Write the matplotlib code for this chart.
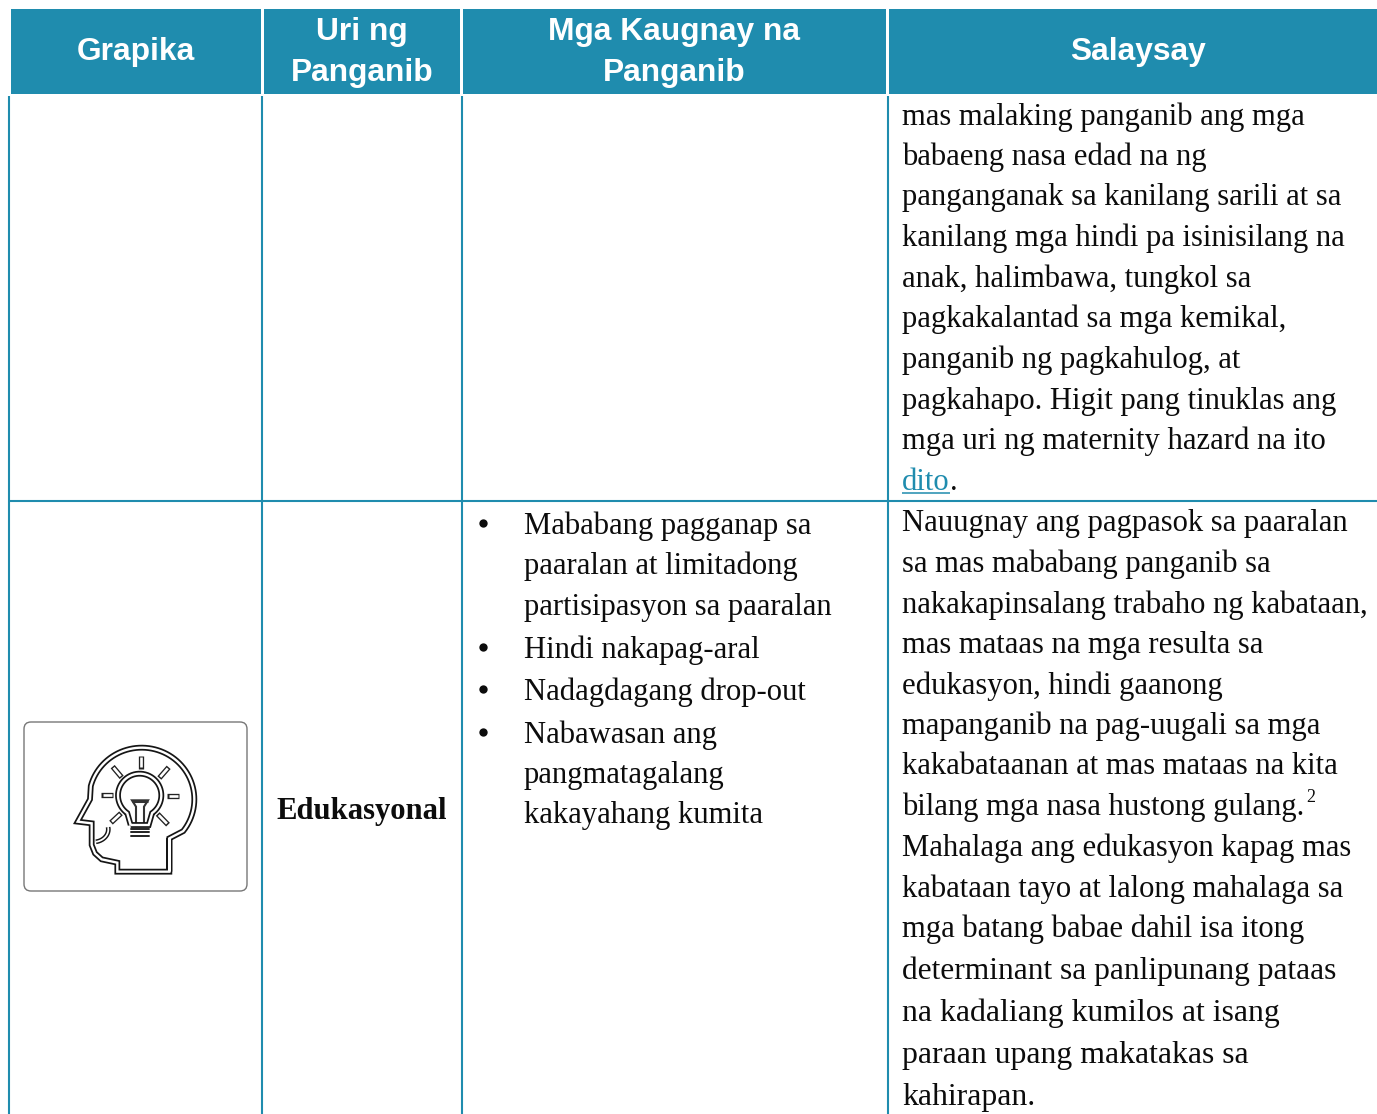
import matplotlib
matplotlib.use("Agg")
import matplotlib.pyplot as plt
from matplotlib.patches import FancyBboxPatch
import numpy as np

# Table content
headers = [["Grapika"], ["Uri ng", "Panganib"], ["Mga Kaugnay na", "Panganib"], ["Salaysay"]]
top_lines = ["mas malaking panganib ang mga", "babaeng nasa edad na ng",
             "panganganak sa kanilang sarili at sa", "kanilang mga hindi pa isinisilang na",
             "anak, halimbawa, tungkol sa", "pagkakalantad sa mga kemikal,",
             "panganib ng pagkahulog, at", "pagkahapo. Higit pang tinuklas ang",
             "mga uri ng maternity hazard na ito"]
top_y = [114, 154, 195, 235, 276, 316, 357, 398, 438]
link_word = "dito"
risk_type = "Edukasyonal"
bullet_lines = [("Mababang pagganap sa", True, 523), ("paaralan at limitadong", False, 563),
                ("partisipasyon sa paaralan", False, 604), ("Hindi nakapag-aral", True, 647),
                ("Nadagdagang drop-out", True, 689), ("Nabawasan ang", True, 732),
                ("pangmatagalang", False, 773), ("kakayahang kumita", False, 813)]
story_lines = ["Nauugnay ang pagpasok sa paaralan", "sa mas mababang panganib sa",
               "nakakapinsalang trabaho ng kabataan,", "mas mataas na mga resulta sa",
               "edukasyon, hindi gaanong", "mapanganib na pag-uugali sa mga",
               "kakabataanan at mas mataas na kita", "bilang mga nasa hustong gulang.",
               "Mahalaga ang edukasyon kapag mas", "kabataan tayo at lalong mahalaga sa",
               "mga batang babae dahil isa itong", "determinant sa panlipunang pataas",
               "na kadaliang kumilos at isang", "paraan upang makatakas sa", "kahirapan."]
story_y = [521, 561, 602, 642, 683, 723, 764, 804, 845, 886, 926, 968, 1010, 1052, 1094]
story_size = [22.1] * 11 + [22.65, 22.9, 22.9, 22.75]

W, H = 1377, 1114
TEAL = "#1f8cae"
INK = "#0c0c0c"
col_edges = [9, 262, 462, 888, 1377]
header_x = [(11, 261), (264, 460), (463, 886), (889, 1377)]
SERIF = "Liberation Serif"
SANS = "Liberation Sans"
FS = 22.1
DY = 3

fig = plt.figure(figsize=(W / 100, H / 100), dpi=100)
ax = fig.add_axes([0, 0, 1, 1])
ax.set_xlim(0, W)
ax.set_ylim(H, 0)
ax.axis("off")

# header cells
for (x0, x1), lines in zip(header_x, headers):
    ax.fill([x0, x1, x1, x0], [9, 9, 94, 94], color=TEAL, lw=0)
    cx = (x0 + x1) / 2 + (5 if x0 == 889 else 0)
    ys = [49] if len(lines) == 1 else [29, 70]
    for s, y in zip(lines, ys):
        ax.text(cx, y + DY, s, ha="center", va="center", color="white", family=SANS,
                weight="bold", fontsize=22.9)

# grid lines
for x in col_edges[:-1]:
    ax.plot([x, x], [96, H], color=TEAL, lw=1.5, solid_capstyle="butt")
ax.plot([9, W], [501, 501], color=TEAL, lw=1.5, solid_capstyle="butt")

# last column, top row
for s, y in zip(top_lines, top_y):
    ax.text(902, y + DY, s, va="center", family=SERIF, fontsize=FS, color=INK)
t = ax.text(902, 479 + DY, link_word, va="center", family=SERIF, fontsize=FS, color=TEAL)
fig.canvas.draw()
link_end = t.get_window_extent().x1
ax.text(link_end, 479 + DY, ".", va="center", family=SERIF, fontsize=FS, color=INK)
ax.plot([902, link_end], [492.7, 492.7], color=TEAL, lw=1.1, solid_capstyle="butt")

# second row
ax.text(362, 808 + DY, risk_type, ha="center", va="center", family=SERIF, weight="bold",
        fontsize=FS, color=INK)
for s, bullet, y in bullet_lines:
    if bullet:
        ax.plot([483], [y], "o", color=INK, ms=6, mew=0)
    ax.text(524, y + DY, s, va="center", family=SERIF, fontsize=FS, color=INK)
for s, y, size in zip(story_lines, story_y, story_size):
    ax.text(902, y + DY, s, va="center", family=SERIF, fontsize=size, color=INK)
ax.text(1306, 798, "2", va="center", family=SERIF, fontsize=13, color=INK)

# icon box
ax.add_patch(FancyBboxPatch((24, 722), 223, 169, boxstyle="round,pad=0,rounding_size=7",
                            fc="white", ec="#777777", lw=1))


def zx(v):
    return 10 + np.asarray(v, dtype=float) / 3


def zy(v):
    return 710 + np.asarray(v, dtype=float) / 3


def dbl(xs, ys, outer=4.2, inner=1.7):
    ax.plot(zx(xs), zy(ys), color="#151515", lw=outer, solid_joinstyle="miter", solid_capstyle="butt")
    ax.plot(zx(xs), zy(ys), color="white", lw=inner, solid_joinstyle="miter", solid_capstyle="butt")


# head outline
ang = np.radians(np.linspace(-38, 165, 60))
hx = [478, 478] + list(395 + 158 * np.cos(ang)) + [240, 203, 245, 245, 255, 275, 322, 322, 478, 478]
hy = [485, 385] + list(268 - 155 * np.sin(ang)) + [268, 335, 340, 405, 430, 448, 458, 485, 485, 385]
dbl(hx, hy)

# bulb
ang = np.radians(np.linspace(235, -55, 50))
bx = [362] + list(389 + 65 * np.cos(ang)) + [416, 362]
by = [345] + list(256 - 65 * np.sin(ang)) + [345, 345]
dbl(bx, by)

# filament and base
ax.fill(zx([366, 414, 402, 402, 378, 378]), zy([271, 271, 290, 345, 345, 290]),
        fc="white", ec="#333333", lw=1.5)
ax.plot(zx([366, 414]), zy([274, 274]), color="#333333", lw=2.2, solid_capstyle="butt")
for y in [356, 367, 378]:
    ax.plot(zx([362, 416]), zy([y, y]), color="#222222", lw=1.4, solid_capstyle="round")

# rays
rays = [(392, 138, 392, 176), (308, 170, 335, 202), (476, 172, 448, 204), (274, 256, 310, 256),
        (472, 258, 508, 258), (303, 338, 333, 310), (474, 344, 443, 312)]
for x0, y0, x1, y1 in rays:
    ax.plot(zx([x0, x1]), zy([y0, y1]), color="#222222", lw=3.8, solid_capstyle="butt")
    ux, uy = (x1 - x0) * 0.1, (y1 - y0) * 0.1
    ax.plot(zx([x0 + ux, x1 - ux]), zy([y0 + uy, y1 - uy]), color="white", lw=1.9, solid_capstyle="butt")

# mouth
ang = np.radians(np.linspace(-80, 10, 15))
dbl(list(250 + 45 * np.cos(ang)), list(358 - 38 * np.sin(ang)), outer=3.4, inner=1.3)

fig.savefig("out.png", dpi=100)
